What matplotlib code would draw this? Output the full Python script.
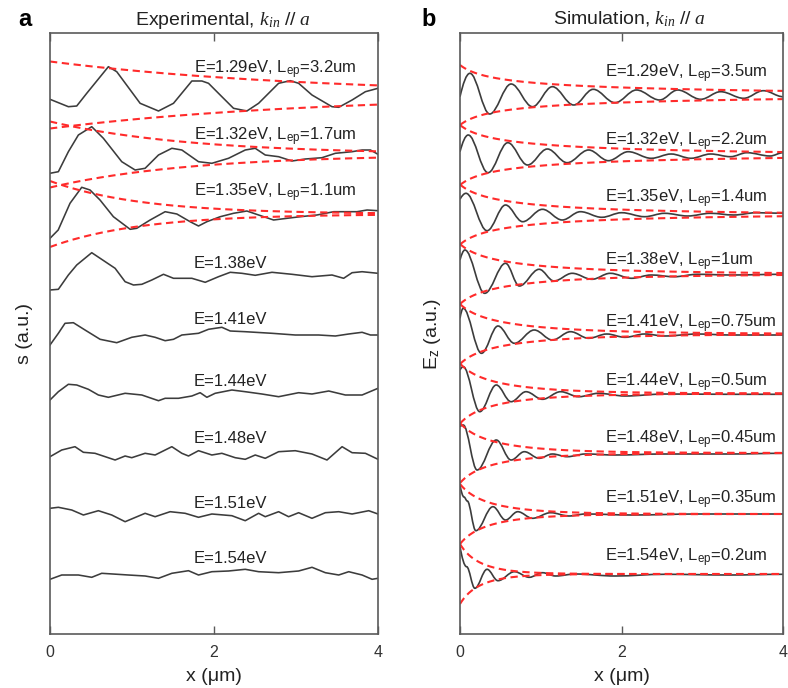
import numpy as np
import matplotlib
matplotlib.use('Agg')
import matplotlib.pyplot as plt
from matplotlib.path import Path
from matplotlib.patches import PathPatch

plt.rcParams.update({
    'font.family': ['Liberation Sans', 'DejaVu Sans'],
    'mathtext.fontset': 'custom',
    'mathtext.rm': 'Liberation Sans',
    'mathtext.it': 'Liberation Serif:italic',
    'mathtext.bf': 'Liberation Sans:bold',
})

# ---------------- data: experimental (panel a) ----------------
exp_energy = ['1.29', '1.32', '1.35', '1.38', '1.41', '1.44', '1.48', '1.51', '1.54']
exp_lep = [3.2, 1.7, 1.1]                 # fitted decay lengths (um) for the first three
exp_env_center = [539.0, 479.5, 420.0]
exp_env_amp = [33.5, 33.0, 33.0]
exp_label_y = [564, 497.3, 440.7, 370.7, 314.7, 252.3, 195.7, 130.7, 75.7]

e129_x = [0, 0.224, 0.326, 0.448, 0.712, 0.814, 1.099, 1.323, 1.506, 1.730, 1.852, 1.933, 2.096,
          2.238, 2.401, 2.544, 2.788, 2.930, 3.032, 3.195, 3.439, 3.521, 3.684, 3.846, 4.0]
e129_y = [534.7, 527.3, 528, 540.7, 567.3, 562.3, 530.7, 523, 530.7, 553, 553, 550.7, 537.3,
          525.7, 523, 530.7, 550.7, 553.3, 550.7, 539, 527.3, 526.7, 534, 542.3, 545.7]
e132_x = [0, 0.102, 0.224, 0.346, 0.509, 0.651, 0.875, 1.038, 1.160, 1.323, 1.486, 1.608, 1.811,
          1.974, 2.177, 2.381, 2.503, 2.625, 2.788, 2.951, 3.114, 3.317, 3.480, 3.684, 3.806, 3.908, 4.0]
e132_y = [460.7, 462.3, 482.3, 499, 507.3, 495.7, 472.3, 464, 465.7, 479, 485.7, 484, 472.3,
          470.7, 475.7, 484, 485.7, 479, 477.3, 473, 475, 476.3, 480.7, 482.3, 484, 484, 479.7]
e135_x = [0, 0.10, 0.244, 0.387, 0.488, 0.61, 0.773, 0.977, 1.058, 1.221, 1.404, 1.547, 1.709, 1.811,
          1.913, 2.076, 2.238, 2.401, 2.544, 2.727, 2.890, 3.053, 3.256, 3.459, 3.622, 3.744, 3.867, 4.0]
e135_y = [395.7, 404, 430.7, 446.7, 444, 434, 417.3, 404.7, 405.7, 414, 422.3, 420, 412.3, 408,
          412.3, 417.3, 420.7, 423, 419, 414, 415.7, 417.3, 419, 422.3, 422.3, 422.3, 424, 423.3]
e138_x = [0, 0.102, 0.224, 0.326, 0.509, 0.794, 0.916, 1.018, 1.120, 1.242, 1.384, 1.506, 1.730,
          1.893, 2.055, 2.198, 2.340, 2.503, 2.707, 2.951, 3.195, 3.439, 3.581, 3.684, 3.806, 4.0]
e138_y = [344, 344.7, 359, 369, 381.3, 365.7, 352.3, 349, 349.7, 354, 359.7, 355.7, 355.7,
          351.7, 357.3, 361.7, 360.7, 358.7, 361.7, 359.7, 357.3, 359, 355.7, 361.3, 362.3, 360.7]
e141_x = [0, 0.102, 0.183, 0.285, 0.427, 0.611, 0.814, 0.997, 1.160, 1.282, 1.404, 1.506, 1.608,
          1.811, 1.933, 2.096, 2.198, 2.381, 2.707, 2.991, 3.276, 3.480, 3.643, 3.806, 3.908, 4.0]
e141_y = [289, 300.7, 310.7, 311.3, 304, 294.7, 291.3, 296.7, 299, 296.7, 293.3, 294.7, 299,
          300.7, 304.7, 306.7, 303, 302.3, 300.7, 299, 299, 298, 300, 301.7, 299, 299]
e144_x = [0, 0.102, 0.224, 0.326, 0.468, 0.590, 0.712, 0.916, 1.120, 1.323, 1.404, 1.567, 1.730,
          1.831, 1.913, 2.014, 2.218, 2.381, 2.584, 2.788, 3.032, 3.195, 3.399, 3.602, 3.806, 4.0]
e144_y = [234, 242.3, 249.7, 249, 244.7, 239, 236.7, 240.7, 239, 233.3, 235.7, 235.7, 238,
          241.3, 236.7, 240.7, 244, 242.3, 240, 237.3, 241.3, 240, 243, 239, 239, 245.7]
e148_x = [0, 0.143, 0.305, 0.407, 0.549, 0.794, 0.916, 0.997, 1.160, 1.282, 1.486, 1.608, 1.689,
          1.811, 1.974, 2.096, 2.259, 2.381, 2.503, 2.625, 2.788, 2.991, 3.195, 3.378, 3.562, 3.684,
          3.846, 4.0]
e148_y = [177.3, 184, 187.3, 181.7, 180.7, 174, 178, 176.3, 180.7, 179, 187.3, 180.7, 178,
          183.3, 179, 180.7, 176.3, 174.7, 179, 175.7, 182.3, 183.3, 180, 174, 187.3, 181.3,
          180.7, 174.7]
e151_x = [0, 0.102, 0.265, 0.407, 0.590, 0.753, 0.916, 1.160, 1.282, 1.465, 1.648, 1.811, 1.974,
          2.218, 2.381, 2.544, 2.625, 2.788, 2.910, 3.032, 3.195, 3.358, 3.521, 3.684, 3.887, 4.0]
e151_y = [125.7, 126.7, 124, 119, 123.3, 119, 112.3, 120.7, 117.3, 122.3, 120.7, 116.7, 120,
          118.3, 113.3, 120.7, 117.3, 122.3, 117.3, 121.3, 115.7, 121.3, 122.3, 120, 123.3, 120]
e154_x = [0, 0.143, 0.346, 0.509, 0.631, 0.956, 1.160, 1.323, 1.486, 1.689, 1.811, 1.974, 2.177,
          2.381, 2.544, 2.788, 3.032, 3.195, 3.358, 3.521, 3.643, 3.806, 3.928, 4.0]
e154_y = [54.7, 59, 59, 56.7, 60.7, 59, 58, 55.7, 60.7, 63.3, 59, 62.3, 63, 64.7, 62.3, 61.3,
          63, 66.7, 61.3, 59, 62.3, 59, 54.7, 55.7]

exp_x = [e129_x, e132_x, e135_x, e138_x, e141_x, e144_x, e148_x, e151_x, e154_x]
exp_y = [e129_y, e132_y, e135_y, e138_y, e141_y, e144_y, e148_y, e151_y, e154_y]

# ---------------- data: simulation (panel b), extrema of each trace ----------------
sim_energy = ['1.29', '1.32', '1.35', '1.38', '1.41', '1.44', '1.48', '1.51', '1.54']
sim_lep = ['3.5', '2.2', '1.4', '1', '0.75', '0.5', '0.45', '0.35', '0.2']
sim_env_center = [539, 479, 419.5, 360, 300, 240.5, 181, 120, 60]
sim_env_amp = 30.0
sim_label_y = [560, 492.3, 434.7, 371.7, 310, 251.3, 194, 134, 75.7]

s129_x = [0, 0.123, 0.368, 0.633, 0.898, 1.144, 1.409, 1.65, 1.920, 2.185, 2.472, 2.696, 2.982,
          3.227, 3.513, 3.758, 4.0]
s129_y = [537.3, 560.7, 520, 550, 527.3, 547.3, 529, 544.7, 531.3, 544, 534, 544, 534.7,
          542.3, 535.7, 543.3, 537.3]
s132_x = [0, 0.102, 0.347, 0.592, 0.837, 1.082, 1.327, 1.593, 1.838, 2.083, 2.369, 2.614, 2.859,
          3.104, 3.35, 3.554, 3.84, 4.0]
s132_y = [482.3, 499, 461.3, 491.3, 469, 485, 471.3, 484, 473.3, 482.3, 475.7, 480, 475.7,
          480, 477.3, 481.3, 478, 481.3]
s135_x = [0, 0.074, 0.335, 0.564, 0.776, 1.021, 1.266, 1.491, 1.756, 2.001, 2.287, 2.533, 2.82,
          3.10, 3.39, 3.67, 4.0]
s135_y = [434.7, 440.7, 403.3, 429, 412.3, 424.7, 414, 422.3, 416.7, 421.3, 417.3, 420.7, 418,
          420.7, 419, 421.3, 420.7]
s138_x = [0, 0.061, 0.306, 0.564, 0.735, 0.98, 1.164, 1.389, 1.634, 1.859, 2.124, 2.369, 2.655,
          2.94, 3.35, 4.0]
s138_y = [374, 384, 340.7, 370.7, 348, 364.7, 353, 360.7, 354.7, 360.7, 355.7, 359, 357.3,
          359.7, 359, 359.7]
s141_x = [0, 0.04, 0.266, 0.47, 0.674, 0.919, 1.144, 1.369, 1.593, 1.818, 2.042, 2.287, 2.533,
          2.94, 3.35, 4.0]
s141_y = [315.7, 325.7, 280.7, 308, 290.7, 304, 294, 302.3, 295.7, 300, 296.7, 300, 298,
          300, 299, 299]
s144_x = [0, 0.04, 0.245, 0.449, 0.633, 0.817, 1.021, 1.246, 1.471, 1.715, 2.042, 2.533, 3.35, 4.0]
s144_y = [264, 267.3, 222.3, 249, 232.3, 242.3, 234.7, 242.3, 237.3, 240.7, 238, 240, 239.7, 239.7]
s148_x = [0, 0.04, 0.212, 0.449, 0.633, 0.797, 0.98, 1.144, 1.327, 1.552, 1.92, 2.533, 3.35, 4.0]
s148_y = [207.3, 209, 164, 194, 174, 182.3, 175.7, 180, 177.3, 180, 179, 180, 180, 180.7]
s151_x = [0, 0.05, 0.09, 0.196, 0.408, 0.564, 0.715, 0.898, 1.123, 1.348, 1.552, 2.124, 2.94, 4.0]
s151_y = [149, 137, 133, 103.3, 127.3, 114, 122.3, 115.7, 121.3, 118, 120, 119, 120, 120]
s154_x = [0, 0.082, 0.184, 0.335, 0.47, 0.674, 0.858, 1.021, 1.184, 1.429, 1.92, 2.533, 3.35, 4.0]
s154_y = [87.3, 67.3, 45.7, 64.7, 53.3, 62.3, 56.7, 61.3, 58, 60, 58, 59.7, 59, 59.7]

sim_x = [s129_x, s132_x, s135_x, s138_x, s141_x, s144_x, s148_x, s151_x, s154_x]
sim_y = [s129_y, s132_y, s135_y, s138_y, s141_y, s144_y, s148_y, s151_y, s154_y]

x_ticks = [0, 2, 4]

# ---------------- styling ----------------
LINE_C = '#3c3c3c'
RED = '#ff2b2b'
SPINE_C = '#5a5a5a'
TXT_C = '#222222'
DASH = (0, (3.5, 2.2))


def smooth_path(xs, ys):
    """Smooth curve through the read extrema (horizontal tangents at extrema)."""
    verts = [(xs[0], ys[0])]
    codes = [Path.MOVETO]
    for i in range(len(xs) - 1):
        dx = xs[i + 1] - xs[i]
        if i == 0:
            c1 = (xs[0] + 0.3 * dx, ys[0] + 0.55 * (ys[1] - ys[0]))
        else:
            c1 = (xs[i] + 0.36 * dx, ys[i])
        c2 = (xs[i + 1] - 0.36 * dx, ys[i + 1])
        verts += [c1, c2, (xs[i + 1], ys[i + 1])]
        codes += [Path.CURVE4] * 3
    return Path(verts, codes)


fig = plt.figure(figsize=(7.88, 6.88), dpi=100)
ax1 = fig.add_axes([50 / 788, 54 / 688, 328 / 788, 601 / 688])
ax2 = fig.add_axes([460 / 788, 54 / 688, 323 / 788, 601 / 688])

for ax in (ax1, ax2):
    ax.set_xlim(0, 4)
    ax.set_ylim(0, 601)
    ax.set_xticks(x_ticks)
    ax.set_yticks([])
    ax.tick_params(axis='x', direction='in', length=6, width=1, color=SPINE_C,
                   top=True, labelsize=11.5, labelcolor='#333333', pad=8)
    for sp in ax.spines.values():
        sp.set_color(SPINE_C)
        sp.set_linewidth(1.2)
    ax.set_xlabel('x (\u03bcm)', fontsize=14, color=TXT_C, labelpad=6)

xx = np.linspace(0, 4, 400)

# panel a
for i in range(len(exp_energy)):
    ax1.plot(exp_x[i], exp_y[i], color=LINE_C, lw=1.15)
for i, L in enumerate(exp_lep):
    env = exp_env_amp[i] * np.exp(-xx / L)
    ax1.plot(xx, exp_env_center[i] + env, color=RED, lw=1.5, ls=DASH)
    ax1.plot(xx, exp_env_center[i] - env, color=RED, lw=1.5, ls=DASH)
for i, e in enumerate(exp_energy):
    if i < len(exp_lep):
        lab = 'E=%seV, L$_{\\rm ep}$=%gum' % (e, exp_lep[i])
    else:
        lab = 'E=%seV' % e
    ax1.text(1.75, exp_label_y[i], lab, fontsize=12, color=TXT_C, ha='left', va='center')

# panel b
x0 = 0.25
for i in range(len(sim_energy)):
    ax2.add_patch(PathPatch(smooth_path(sim_x[i], sim_y[i]), facecolor='none',
                            edgecolor=LINE_C, lw=1.2))
    L = float(sim_lep[i])
    env = sim_env_amp * np.exp(-xx / (2 * L)) / np.sqrt(1 + xx / x0)
    ax2.plot(xx, sim_env_center[i] + env, color=RED, lw=1.5, ls=DASH)
    ax2.plot(xx, sim_env_center[i] - env, color=RED, lw=1.5, ls=DASH)
    lab = 'E=%seV, L$_{\\rm ep}$=%sum' % (sim_energy[i], sim_lep[i])
    ax2.text(1.79, sim_label_y[i], lab, fontsize=12, color=TXT_C, ha='left', va='center')

ax1.set_ylabel('s (a.u.)', fontsize=14, color=TXT_C, labelpad=12)
ax2.set_ylabel('E$_{\\rm z}$ (a.u.)', fontsize=14, color=TXT_C, labelpad=12)

ax1.set_title('Experimental, $k_{in}\\ \\mathit{//}\\ a$', fontsize=14, color=TXT_C, pad=6,
              x=0.5 + 9 / 328)
ax2.set_title('Simulation, $k_{in}\\ \\mathit{//}\\ a$', fontsize=14, color=TXT_C, pad=6,
              x=0.5 + 8 / 323)

fig.text(18 / 788, 1 - 19 / 688, 'a', fontsize=17, fontweight='bold', ha='left', va='center')
fig.text(421 / 788, 1 - 19 / 688, 'b', fontsize=17, fontweight='bold', ha='left', va='center')

fig.savefig('out.png', dpi=100)
